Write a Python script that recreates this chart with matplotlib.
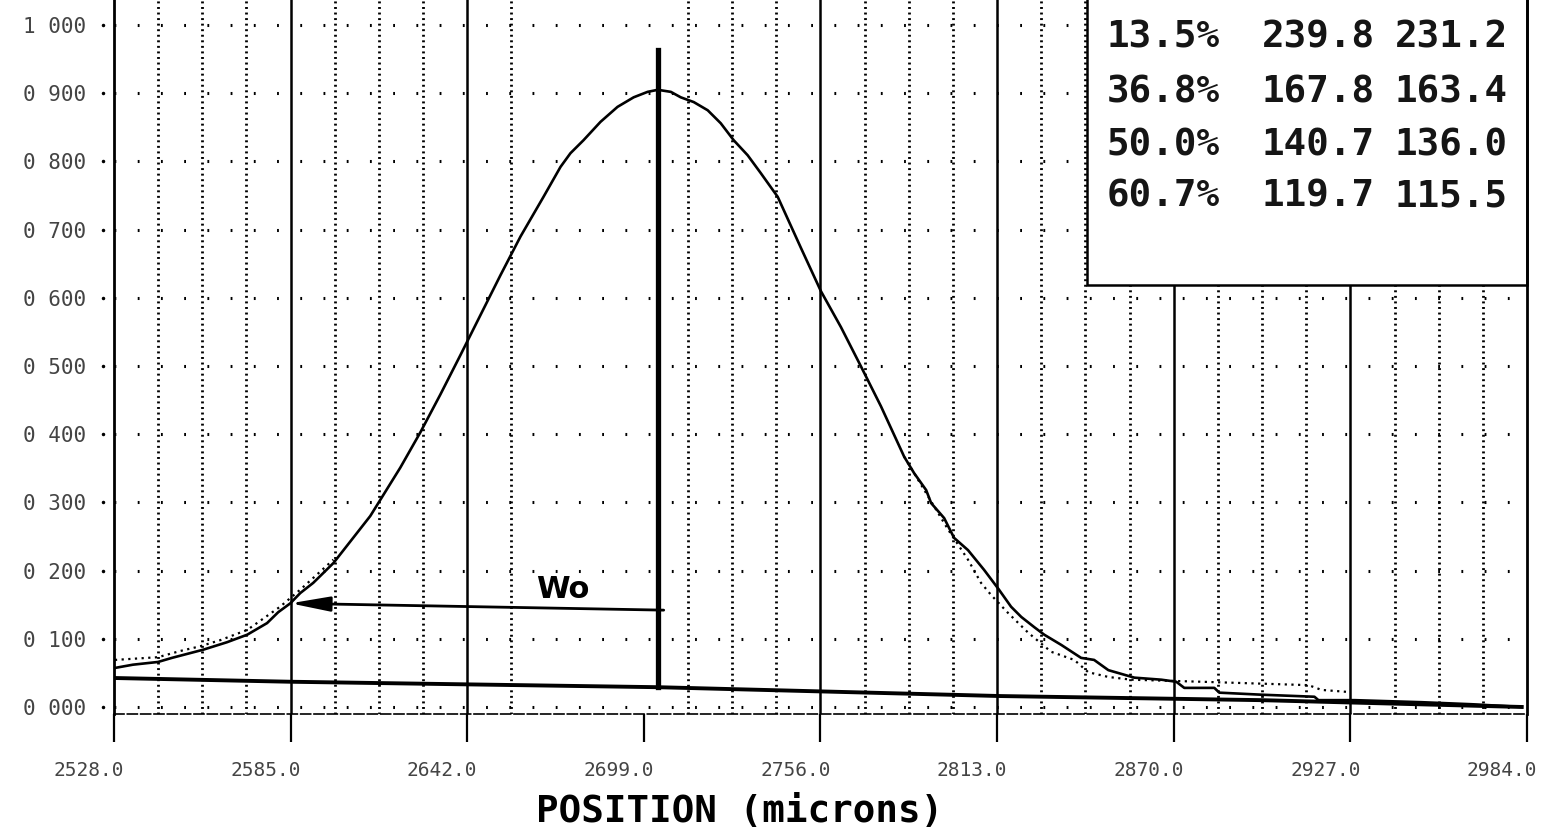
import matplotlib
matplotlib.use("Agg")
import matplotlib.pyplot as plt
import matplotlib.transforms as mtransforms
from matplotlib.patches import Rectangle


# 坐标轴刻度
x_ticks = [2528.0, 2585.0, 2642.0, 2699.0, 2756.0, 2813.0, 2870.0, 2927.0, 2984.0]
x_tick_labels = ["2528.0", "2585.0", "2642.0", "2699.0", "2756.0",
                 "2813.0", "2870.0", "2927.0", "2984.0"]
y_ticks = [0.0, 0.1, 0.2, 0.3, 0.4, 0.5, 0.6, 0.7, 0.8, 0.9, 1.0]
y_tick_labels = ["0 000", "0 100", "0 200", "0 300", "0 400", "0 500",
                 "0 600", "0 700", "0 800", "0 900", "1 000"]

# 实测光斑轮廓 (位置 microns, 归一化强度)
profile_x = [2528.0, 2534.1, 2542.2, 2546.7, 2556.8, 2564.5, 2571.0, 2577.4,
             2581.0, 2584.9, 2588.1, 2592.3, 2598.8, 2610.7, 2620.4, 2626.9,
             2633.3, 2639.8, 2646.3, 2652.7, 2659.2, 2666.6, 2672.1, 2675.3,
             2679.5, 2685.0, 2690.5, 2695.7, 2700.2, 2703.5, 2707.7, 2710.9,
             2715.1, 2719.6, 2723.8, 2728.0, 2732.5, 2736.7, 2742.2, 2749.7,
             2756.1, 2762.6, 2769.1, 2775.5, 2783.0, 2786.2, 2790.1, 2791.7,
             2795.9, 2799.1, 2803.6, 2808.8, 2813.6, 2817.5, 2820.8, 2825.0,
             2828.2, 2833.7, 2840.1, 2844.3, 2848.9, 2857.3, 2866.0, 2870.8,
             2873.4, 2883.1, 2884.7, 2898.3, 2915.4, 2916.7, 2928.4, 2950.0,
             2966.2, 2982.3]
profile_y = [0.057, 0.062, 0.066, 0.072, 0.084, 0.095, 0.106, 0.123,
             0.139, 0.152, 0.167, 0.182, 0.211, 0.280, 0.351, 0.403,
             0.458, 0.516, 0.575, 0.633, 0.690, 0.748, 0.792, 0.812,
             0.831, 0.858, 0.880, 0.894, 0.902, 0.905, 0.902, 0.894,
             0.887, 0.875, 0.856, 0.831, 0.809, 0.783, 0.748, 0.673,
             0.610, 0.557, 0.499, 0.441, 0.367, 0.343, 0.318, 0.299,
             0.277, 0.248, 0.230, 0.201, 0.172, 0.147, 0.132, 0.117,
             0.106, 0.091, 0.072, 0.069, 0.054, 0.043, 0.040, 0.037,
             0.028, 0.028, 0.021, 0.018, 0.015, 0.010, 0.010, 0.007,
             0.004, 0.000]

# 拟合曲线 (点线) 的两侧尾部
fit_left_x = [2528.3, 2542.2, 2549.3, 2555.8, 2562.3, 2571.0, 2581.6, 2588.1, 2598.8]
fit_left_y = [0.069, 0.073, 0.082, 0.089, 0.098, 0.113, 0.147, 0.172, 0.216]
fit_right_x = [2783.0, 2797.2, 2803.6, 2807.8, 2811.1, 2816.5, 2823.0, 2830.4,
               2837.9, 2842.4, 2848.9, 2856.3, 2878.9, 2913.5, 2917.7, 2926.4]
fit_right_y = [0.367, 0.260, 0.216, 0.182, 0.164, 0.138, 0.109, 0.081,
               0.069, 0.051, 0.044, 0.040, 0.037, 0.032, 0.025, 0.022]

# 基线
base_x = [2528.0, 2584.9, 2703.5, 2814.3, 2898.3, 2982.3]
base_y = [0.0425, 0.037, 0.029, 0.016, 0.010, 0.000]

# 峰值位置标记与 Wo 箭头
peak_x = 2703.5
peak_line_y = [0.029, 0.963]
w0_x = [2705.4, 2584.9]
w0_y = [0.142, 0.152]

# 右上角表格
table_pct = ["13.5%", "36.8%", "50.0%", "60.7%"]
table_w1 = ["239.8", "167.8", "140.7", "119.7"]
table_w2 = ["231.2", "163.4", "136.0", "115.5"]

MONO = ["DejaVu Sans Mono"]


def main():
    fig = plt.figure(figsize=(15.51, 8.40), dpi=100)
    ax = fig.add_axes([114 / 1551, 1 - 714 / 840, 1413 / 1551, 714 / 840])

    ax.set_xlim(2528.0, 2984.0)
    ax.set_ylim(-0.0103, 1.0367)

    # 网格：水平点线
    for yv in y_ticks:
        ax.axhline(yv, color="black", lw=2.2, linestyle=(0, (0.6, 7.0)), zorder=1)

    # 网格：竖直实线与点线（部分网格线在原图中没有打印出来）
    step = (x_ticks[1] - x_ticks[0]) / 4
    skipped = {10, 11, 12}
    for k in range(1, 32):
        if k in skipped:
            continue
        xv = x_ticks[0] + k * step
        if k % 4 == 0:
            ax.axvline(xv, color="black", lw=1.8, zorder=1)
        else:
            ax.axvline(xv, color="black", lw=2.0, linestyle=(0, (0.7, 1.3)), zorder=1)

    # 曲线
    ax.plot(profile_x, profile_y, color="black", lw=1.9, zorder=3)
    ax.plot(fit_left_x, fit_left_y, color="black", lw=1.6,
            linestyle=(0, (1, 2)), zorder=3)
    ax.plot(fit_right_x, fit_right_y, color="black", lw=1.6,
            linestyle=(0, (1, 2)), zorder=3)
    ax.plot(base_x, base_y, color="black", lw=2.8, zorder=3)

    # 峰值竖线与 Wo 箭头
    ax.plot([peak_x, peak_x], peak_line_y, color="black", lw=3.8, zorder=4)
    ax.annotate("", xy=(w0_x[1], w0_y[1]), xytext=(w0_x[0], w0_y[0]),
                arrowprops=dict(arrowstyle="-|>,head_length=2.4,head_width=0.45",
                                color="black", lw=2.0, shrinkA=0, shrinkB=0),
                zorder=4)
    ax.text(2672.8, 0.1716, "Wo", fontsize=22, fontweight="bold",
            ha="center", va="center", family=["DejaVu Sans"], zorder=4)

    # 表格框
    box = Rectangle((0.6886, 0.601), 0.3114, 0.5, transform=ax.transAxes,
                    facecolor="white", edgecolor="black", lw=1.8,
                    clip_on=False, zorder=5)
    ax.add_patch(box)
    row_y = [0.947, 0.871, 0.796, 0.725]
    for i in range(len(table_pct)):
        for col_x, txt in zip([0.7827, 0.8924, 0.9866],
                              [table_pct[i], table_w1[i], table_w2[i]]):
            ax.text(col_x, row_y[i], txt, transform=ax.transAxes, ha="right",
                    va="center", fontsize=27, fontweight="bold", family=MONO,
                    color="#151515", zorder=6)

    # 坐标轴样式
    ax.spines["top"].set_visible(False)
    ax.spines["left"].set_linewidth(2.0)
    ax.spines["right"].set_linewidth(2.0)
    ax.spines["bottom"].set_linewidth(1.2)
    ax.spines["bottom"].set_linestyle((0, (6, 2)))
    ax.spines["right"].set_zorder(6)

    ax.set_xticks(x_ticks)
    ax.set_xticklabels(x_tick_labels, family=MONO, fontsize=14, color="#444444")
    ax.tick_params(axis="x", direction="out", length=20, width=1.6, pad=14)
    offset = mtransforms.ScaledTranslation(-25 / 100, 0, fig.dpi_scale_trans)
    for lab in ax.get_xticklabels():
        lab.set_transform(lab.get_transform() + offset)

    ax.set_yticks(y_ticks)
    ax.set_yticklabels(y_tick_labels, family=MONO, fontsize=15, color="#444444")
    ax.tick_params(axis="y", length=0, pad=20)
    # 刻度旁的小点
    trans = mtransforms.blended_transform_factory(ax.transAxes, ax.transData)
    ax.plot([-0.0075] * len(y_ticks), y_ticks, ".", color="black", ms=3,
            transform=trans, clip_on=False)

    fig.text(740 / 1551, 1 - 812 / 840, "POSITION (microns)", ha="center",
             va="center", fontsize=27, fontweight="bold", family=MONO)

    fig.savefig("out.png", dpi=100)
    plt.close(fig)


if __name__ == "__main__":
    main()
